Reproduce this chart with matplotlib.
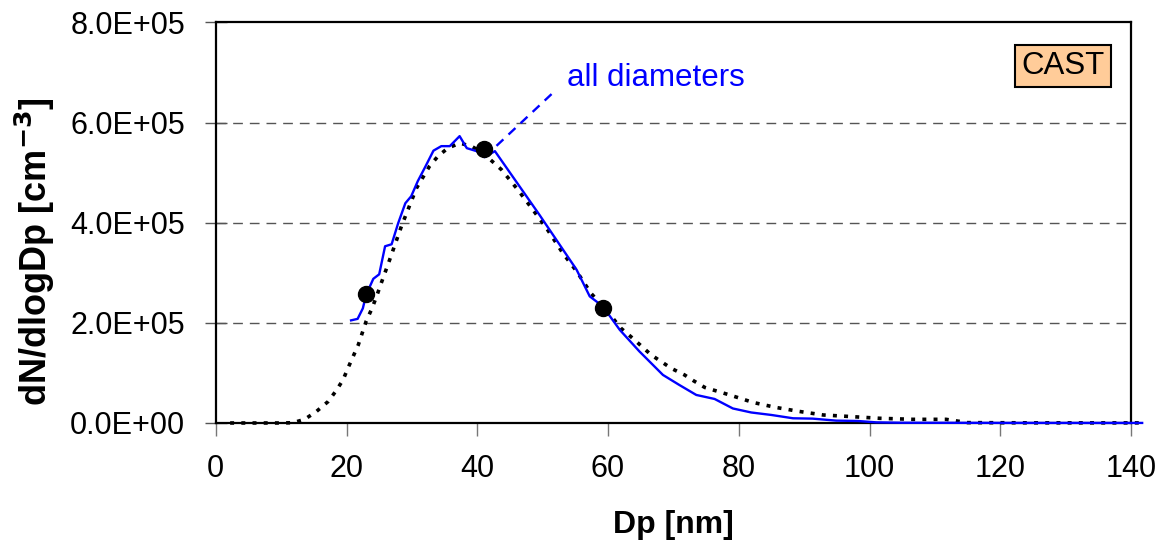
import matplotlib.pyplot as plt
from matplotlib.ticker import FuncFormatter

plt.rcParams['font.family'] = ['Liberation Sans', 'DejaVu Sans']

# measured size distribution (blue, all diameters)
dp_meas = [20.7, 21.7, 22.5, 23.0, 24.1, 25.0, 25.9, 26.9, 27.9, 29.0, 29.9, 30.9,
           32.1, 33.3, 34.5, 35.8, 37.3, 38.4, 39.9, 41.1, 42.7, 49.5, 55.2, 57.2,
           59.2, 61.8, 64.8, 68.4, 70.9, 73.5, 76.3, 79.1, 81.9, 85.0, 88.3, 91.3,
           94.9, 98.2, 101.0, 105.0, 120.0, 141.7]
n_meas = [2.05e5, 2.08e5, 2.29e5, 2.56e5, 2.88e5, 2.97e5, 3.53e5, 3.57e5, 3.99e5,
          4.39e5, 4.53e5, 4.83e5, 5.13e5, 5.44e5, 5.53e5, 5.53e5, 5.73e5, 5.49e5,
          5.43e5, 5.31e5, 5.43e5, 4.16e5, 3.06e5, 2.53e5, 2.33e5, 1.86e5, 1.43e5,
          9.6e4, 7.6e4, 5.6e4, 4.8e4, 2.9e4, 2.1e4, 1.6e4, 9.4e3, 8.7e3, 4.7e3,
          4.0e3, 1.3e3, 500, 200, 100]

# fitted curve (black dotted)
dp_fit = [2.2, 6.0, 10.0, 11.8, 13.6, 15.4, 17.2, 18.5, 19.5, 20.2, 21.8, 23.0,
          23.9, 24.6, 25.3, 26.6, 28.4, 30.7, 32.7, 34.0, 35.5, 37.3, 39.1, 40.9,
          43.7, 46.2, 48.5, 50.6, 53.1, 55.2, 57.4, 59.7, 62.0, 63.8, 66.6, 69.7,
          71.7, 73.0, 74.8, 78.6, 82.2, 85.7, 89.3, 92.9, 96.9, 101.5, 106.6,
          111.7, 115.0, 125.0, 141.7]
n_fit = [0, 0, 0, 500, 7.3e3, 2.3e4, 4.3e4, 6.6e4, 8.7e4, 1.09e5, 1.56e5, 2.03e5,
         2.29e5, 2.53e5, 2.79e5, 3.26e5, 3.93e5, 4.69e5, 5.13e5, 5.33e5, 5.49e5,
         5.59e5, 5.53e5, 5.39e5, 5.06e5, 4.66e5, 4.26e5, 3.89e5, 3.39e5, 3.03e5,
         2.59e5, 2.26e5, 1.89e5, 1.69e5, 1.36e5, 1.09e5, 9.6e4, 8.5e4, 7.1e4,
         5.6e4, 4.1e4, 3.1e4, 2.3e4, 1.6e4, 1.3e4, 9.4e3, 7.3e3, 7.3e3, 700, 300, 200]

# highlighted points
dp_pts = [23.0, 41.0, 59.2]
n_pts = [2.58e5, 5.47e5, 2.29e5]

# label leader line
lead_x = [41.1, 52.1]
lead_y = [5.31e5, 6.66e5]

fig = plt.figure(figsize=(11.7, 5.46), dpi=100)
ax = fig.add_axes([0.1844, 0.2253, 0.7823, 0.7335])

ax.set_xlim(0, 140)
ax.set_ylim(0, 8e5)
ax.set_yticks([0, 2e5, 4e5, 6e5, 8e5])
ax.set_xticks(range(0, 141, 20))
ax.yaxis.set_major_formatter(FuncFormatter(lambda v, p: f'{v:.1E}'))

for yv in [2e5, 4e5, 6e5]:
    ax.axhline(yv, color='#555555', lw=1, ls=(0, (7, 5)), zorder=0)

ax.plot(dp_fit, n_fit, color='black', lw=2.6, ls=(0, (1.1, 2.0)), clip_on=False, zorder=2)
ax.plot(dp_meas, n_meas, color='#0000ff', lw=1.7, clip_on=False, zorder=3)
ax.plot(lead_x, lead_y, color='#0000ff', lw=1.7, ls=(0, (4, 3)), zorder=3)
ax.plot(dp_pts, n_pts, 'o', color='black', ms=11.5, zorder=4)

ax.text(53.75, 6.9e5, 'all diameters', color='#0000ff', fontsize=22.5, va='center', ha='left')
ax.text(129.6, 7.13e5, 'CAST', fontsize=22.5, va='center', ha='center',
        bbox=dict(boxstyle='square,pad=0.2', fc='#ffcc99', ec='black', lw=1.5))

for s in ax.spines.values():
    s.set_linewidth(1.6)

ax.tick_params(axis='y', direction='inout', length=16, width=1, color='#555555',
               labelsize=22, pad=14)
ax.tick_params(axis='x', direction='out', length=9, width=1, color='#777777',
               labelsize=22, pad=13)

ax.set_xlabel('Dp [nm]', fontsize=23, fontweight='bold')
ax.set_ylabel('dN/dlogDp [cm$^{\\mathbf{-3}}$]', fontsize=26, fontweight='bold')
ax.xaxis.set_label_coords(0.5, -0.2547)
ax.xaxis.label.set_va('center')
ax.yaxis.set_label_coords(-0.1975, 0.427)
ax.yaxis.label.set_va('center')

fig.savefig('out.png', dpi=100)
